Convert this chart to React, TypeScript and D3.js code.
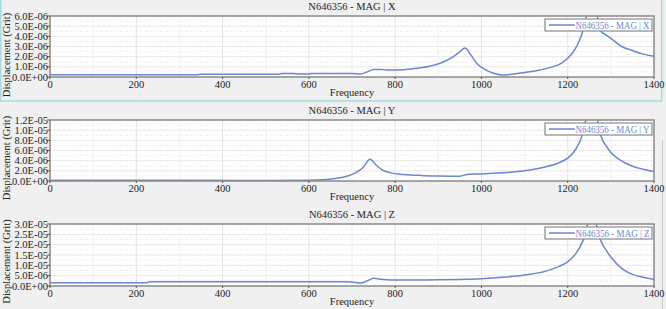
import React from "react";
import * as d3 from "d3";

const W = 666;
const H = 309;

const freqTicks = [0, 200, 400, 600, 800, 1000, 1200, 1400];

// X component
const xFreq = [0, 100, 200, 340, 350, 530, 540, 565, 575, 600, 605, 700, 720, 735, 750, 765, 780, 820, 850, 880, 910, 935, 950, 962, 975, 990, 1010, 1030, 1050, 1075, 1100, 1130, 1160, 1185, 1200, 1215, 1225, 1235, 1245, 1256, 1267, 1277, 1290, 1300, 1325, 1350, 1375, 1400];
const xVals = [0.22, 0.22, 0.22, 0.22, 0.28, 0.28, 0.35, 0.35, 0.3, 0.3, 0.35, 0.35, 0.3, 0.5, 0.75, 0.75, 0.7, 0.72, 0.85, 1.05, 1.45, 2.0, 2.5, 2.85, 2.2, 1.3, 0.7, 0.35, 0.2, 0.3, 0.45, 0.65, 0.95, 1.35, 1.85, 2.6, 3.4, 4.5, 6.3, 8.0, 6.3, 4.5, 4.1, 3.8, 3.0, 2.6, 2.25, 2.05].map((v) => v * 1e-6);

// Y component
const yFreq = [0, 300, 500, 600, 630, 660, 690, 710, 725, 742, 755, 770, 790, 820, 860, 900, 950, 970, 1000, 1050, 1100, 1150, 1180, 1200, 1215, 1225, 1233, 1245, 1256, 1267, 1277, 1290, 1300, 1320, 1350, 1375, 1400];
const yVals = [0.15, 0.15, 0.12, 0.15, 0.25, 0.5, 1.0, 1.7, 2.6, 4.3, 3.2, 2.2, 1.6, 1.3, 1.1, 1.0, 0.95, 1.35, 1.4, 1.6, 2.0, 2.8, 3.6, 4.5, 5.8, 7.2, 8.9, 13, 16, 13, 8.9, 6.8, 5.6, 4.2, 2.9, 2.3, 1.85].map((v) => v * 1e-6);

// Z component
const zFreq = [0, 225, 230, 680, 700, 720, 735, 750, 765, 790, 850, 900, 950, 1000, 1050, 1100, 1150, 1180, 1200, 1220, 1235, 1256, 1277, 1290, 1300, 1325, 1350, 1375, 1400];
const zVals = [1.6, 1.6, 2.1, 2.1, 1.9, 1.4, 2.5, 3.7, 3.3, 2.9, 2.9, 3.0, 3.2, 3.5, 4.2, 5.3, 7.2, 9.5, 11.7, 16, 21.7, 35, 21.7, 17, 14, 8.5, 5.6, 4.2, 3.2].map((v) => v * 1e-6);

const xTickVals = [0, 1e-6, 2e-6, 3e-6, 4e-6, 5e-6, 6e-6];
const xTickLabels = ["0.0E+00", "1.0E-06", "2.0E-06", "3.0E-06", "4.0E-06", "5.0E-06", "6.0E-06"];
const yTickVals = [0, 2e-6, 4e-6, 6e-6, 8e-6, 1e-5, 1.2e-5];
const yTickLabels = ["0.0E+00", "2.0E-06", "4.0E-06", "6.0E-06", "8.0E-06", "1.0E-05", "1.2E-05"];
const zTickVals = [0, 5e-6, 1e-5, 1.5e-5, 2e-5, 2.5e-5, 3e-5];
const zTickLabels = ["0.0E+00", "5.0E-06", "1.0E-05", "1.5E-05", "2.0E-05", "2.5E-05", "3.0E-05"];

const titles = ["N646356 - MAG | X", "N646356 - MAG | Y", "N646356 - MAG | Z"];

const panels = [
  { title: titles[0], freq: xFreq, vals: xVals, ticks: xTickVals, labels: xTickLabels, max: 6e-6, top: 16, bottom: 77, yOff: 8.5 },
  { title: titles[1], freq: yFreq, vals: yVals, ticks: yTickVals, labels: yTickLabels, max: 1.2e-5, top: 120, bottom: 181, yOff: 7.5 },
  { title: titles[2], freq: zFreq, vals: zVals, ticks: zTickVals, labels: zTickLabels, max: 3e-5, top: 224, bottom: 286, yOff: 6.5 },
];

const LEFT = 50;
const RIGHT = 654;
const LINE = "#6a87cf";
const FONT = "'Liberation Serif', 'Times New Roman', serif";

function Panel({ p, idx }: { p: any; idx: number }) {
  const x = d3.scaleLinear().domain([0, 1400]).range([LEFT, RIGHT]);
  const y = d3.scaleLinear().domain([0, p.max]).range([p.bottom, p.top]);
  const pts: [number, number][] = p.freq.map((f: number, i: number) => [f, p.vals[i]]);
  const line = d3
    .line<[number, number]>()
    .x((d) => x(d[0]))
    .y((d) => y(d[1]))
    .curve(d3.curveMonotoneX);
  const minorX = d3.range(0, 1401, 100);
  const step = p.ticks[1] - p.ticks[0];
  const minorY = p.ticks.slice(0, -1).map((t: number) => t + step / 2);
  const clipId = `clip${idx}`;
  const midY = (p.top + p.bottom) / 2 + p.yOff;
  const legX1 = RIGHT - 109;
  const legY = p.top + 3;
  return (
    <g>
      <defs>
        <clipPath id={clipId}>
          <rect x={LEFT} y={p.top} width={RIGHT - LEFT} height={p.bottom - p.top} />
        </clipPath>
      </defs>
      <text x={(LEFT + RIGHT) / 2} y={p.top - 6} textAnchor="middle" fontSize={10.5} fill="#222">
        {p.title}
      </text>
      <rect x={LEFT} y={p.top} width={RIGHT - LEFT} height={p.bottom - p.top} fill="#fff" />
      {minorY.map((t: number, i: number) => (
        <line key={"my" + i} x1={LEFT} x2={RIGHT} y1={y(t)} y2={y(t)} stroke="#ececec" strokeDasharray="3,2" strokeWidth={0.8} />
      ))}
      {p.ticks.map((t: number, i: number) => (
        <line key={"gy" + i} x1={LEFT} x2={RIGHT} y1={y(t)} y2={y(t)} stroke="#e2e2e2" strokeWidth={0.8} />
      ))}
      {minorX.map((f: number, i: number) => (
        <line key={"gx" + i} x1={x(f)} x2={x(f)} y1={p.top} y2={p.bottom} stroke={f % 200 === 0 ? "#dedede" : "#ececec"} strokeWidth={0.8} />
      ))}
      <path d={line(pts) || ""} fill="none" stroke={LINE} strokeWidth={1.5} clipPath={`url(#${clipId})`} />
      <rect x={LEFT} y={p.top} width={RIGHT - LEFT} height={p.bottom - p.top} fill="none" stroke="#8c8c8c" strokeWidth={1.5} />
      {p.ticks.map((t: number, i: number) => (
        <g key={"ty" + i}>
          <line x1={LEFT - 3} x2={LEFT} y1={y(t)} y2={y(t)} stroke="#555" strokeWidth={1} />
          <text x={LEFT - 2} y={y(t) + 3.5} textAnchor="end" fontSize={10.5} fill="#222">
            {p.labels[i]}
          </text>
        </g>
      ))}
      {freqTicks.map((f, i) => (
        <g key={"tx" + i}>
          <line x1={x(f)} x2={x(f)} y1={p.bottom} y2={p.bottom + 2} stroke="#555" strokeWidth={1} />
          <text x={x(f)} y={p.bottom + 10.5} textAnchor="middle" fontSize={10.5} fill="#222">
            {f}
          </text>
        </g>
      ))}
      <text x={(LEFT + RIGHT) / 2} y={p.bottom + 18.5} textAnchor="middle" fontSize={10.5} fill="#222">
        Frequency
      </text>
      <text transform={`translate(10,${midY}) rotate(-90)`} textAnchor="middle" fontSize={10.5} fill="#222">
        Displacement (Grit)
      </text>
      <rect x={legX1} y={legY} width={107} height={12} fill="#fff" stroke="#8c8c8c" strokeWidth={1.2} />
      <line x1={legX1 + 4} x2={legX1 + 30} y1={legY + 6} y2={legY + 6} stroke={LINE} strokeWidth={1.5} />
      <text x={legX1 + 30.5} y={legY + 9.5} fontSize={9.5} fill={LINE} textLength={74} lengthAdjust="spacingAndGlyphs">
        {p.title}
      </text>
    </g>
  );
}

export default function App() {
  return (
    <svg width={W} height={H} style={{ position: "absolute", left: 0, top: 0, fontFamily: FONT, background: "#f0f0f0" }}>
      <rect x={0} y={0} width={W} height={H} fill="#f0f0f0" />
      <rect x={0.75} y={-1} width={661} height={102} fill="none" stroke="#a6dde2" strokeWidth={1.5} />
      <line x1={662.5} x2={662.5} y1={140} y2={H} stroke="#c8c8c8" strokeWidth={1} />
      {panels.map((p, i) => (
        <Panel key={i} p={p} idx={i} />
      ))}
    </svg>
  );
}
